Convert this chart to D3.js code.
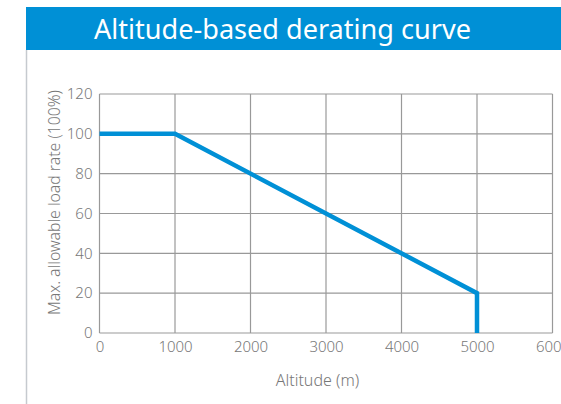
<!DOCTYPE html>
<html><head><meta charset="utf-8">
<script src="https://cdn.jsdelivr.net/npm/d3@7"></script>
<style>
html,body{margin:0;padding:0;background:#fff;}
svg{display:block;}
</style></head>
<body>
<svg id="chart" width="561" height="404"></svg>
<script>
const title = "Altitude-based derating curve";
const altitude = [0, 1000, 5000, 5000];
const loadRate = [100, 100, 20, 0];
const xTicks = [0, 1000, 2000, 3000, 4000, 5000, 6000];
const yTicks = [0, 20, 40, 60, 80, 100, 120];
const xLabel = "Altitude (m)";
const yLabel = "Max. allowable load rate (100%)";

const svg = d3.select("#chart");
const font = "'Noto Sans', 'Open Sans', sans-serif";
const txt = "#777";

// header band
svg.append("rect").attr("x", 26).attr("y", 7).attr("width", 535).attr("height", 43).attr("fill", "#0090d6");
svg.append("text").attr("x", 282.5).attr("y", 39).attr("text-anchor", "middle")
  .attr("fill", "#fff").attr("font-family", font).attr("font-size", 27)
  .attr("textLength", 377).attr("lengthAdjust", "spacingAndGlyphs").text(title);
// left border
svg.append("line").attr("x1", 26.5).attr("x2", 26.5).attr("y1", 50).attr("y2", 404)
  .attr("stroke", "#c6cacf").attr("stroke-width", 1.5);

const x = d3.scaleLinear().domain([0, 6000]).range([99.5, 552.5]);
const y = d3.scaleLinear().domain([0, 120]).range([333, 94]);

const g = svg.append("g");
// grid
g.selectAll(".vg").data(xTicks).join("line")
  .attr("x1", d => x(d)).attr("x2", d => x(d)).attr("y1", y(120)).attr("y2", y(0))
  .attr("stroke", "#999").attr("stroke-width", 1.2);
g.selectAll(".hg").data(yTicks).join("line")
  .attr("x1", x(0)).attr("x2", x(6000)).attr("y1", d => y(d)).attr("y2", d => y(d))
  .attr("stroke", "#999").attr("stroke-width", 1.2);

// axes labels via d3 axes
const xAxis = d3.axisBottom(x).tickValues(xTicks).tickSize(0).tickPadding(8).tickFormat(d3.format("d"));
const yAxis = d3.axisLeft(y).tickValues(yTicks).tickSize(0).tickPadding(7).tickFormat(d3.format("d"));
const gx = svg.append("g").attr("transform", `translate(0,${y(0)})`).call(xAxis);
const gy = svg.append("g").attr("transform", `translate(${x(0)},0)`).call(yAxis);
[gx, gy].forEach(a => {
  a.select(".domain").remove();
  a.selectAll("text").attr("fill", txt).attr("font-family", font).attr("font-size", 15).attr("font-weight", 300);
});

// line
const line = d3.line().x((d, i) => x(altitude[i])).y((d, i) => y(loadRate[i]));
svg.append("path").datum(altitude).attr("d", line).attr("fill", "none")
  .attr("stroke", "#0090d6").attr("stroke-width", 4.5).attr("stroke-linejoin", "miter");

// axis titles
svg.append("text").attr("x", 317.5).attr("y", 386).attr("text-anchor", "middle")
  .attr("fill", txt).attr("font-family", font).attr("font-size", 16).attr("font-weight", 300).text(xLabel);
svg.append("text").attr("transform", "translate(60,202.5) rotate(-90)").attr("text-anchor", "middle")
  .attr("fill", txt).attr("font-family", font).attr("font-size", 16).attr("font-weight", 300)
  .attr("textLength", 225).attr("lengthAdjust", "spacingAndGlyphs").text(yLabel);
</script>
</body></html>
